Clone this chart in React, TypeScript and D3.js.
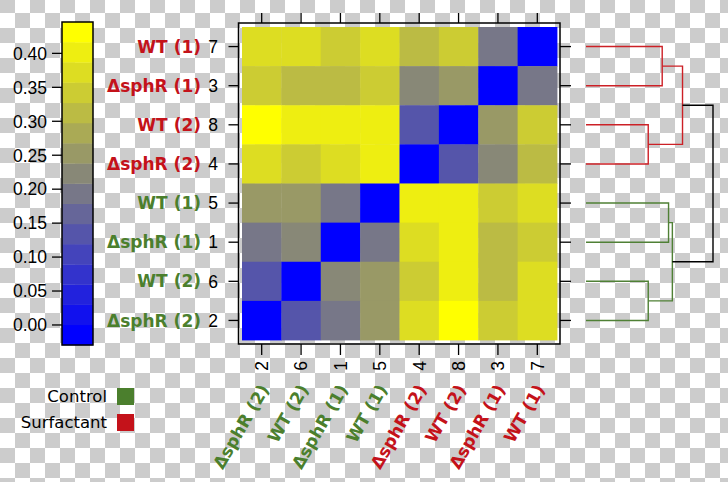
import React from "react";
import * as d3 from "d3";

// ---- data ----
const sampleIds = ["1", "2", "3", "4", "5", "6", "7", "8"];
const sampleNames = ["ΔsphR (1)", "ΔsphR (2)", "ΔsphR (1)", "ΔsphR (2)", "WT (1)", "WT (2)", "WT (1)", "WT (2)"];
const sampleGroups = ["Control", "Control", "Surfactant", "Surfactant", "Control", "Control", "Surfactant", "Surfactant"];

// distance matrix, rows/cols in sampleIds order
const distances = [
  [0.0, 0.19, 0.31, 0.37, 0.19, 0.22, 0.34, 0.4],
  [0.19, 0.0, 0.34, 0.37, 0.25, 0.13, 0.37, 0.43],
  [0.31, 0.34, 0.0, 0.22, 0.34, 0.31, 0.19, 0.25],
  [0.37, 0.37, 0.22, 0.0, 0.4, 0.34, 0.31, 0.13],
  [0.19, 0.25, 0.34, 0.4, 0.0, 0.25, 0.37, 0.4],
  [0.22, 0.13, 0.31, 0.34, 0.25, 0.0, 0.37, 0.4],
  [0.34, 0.37, 0.19, 0.31, 0.37, 0.37, 0.0, 0.34],
  [0.4, 0.43, 0.25, 0.13, 0.4, 0.4, 0.34, 0.0],
];

const rowOrder = ["7", "3", "8", "4", "5", "1", "6", "2"];
const colOrder = ["2", "6", "1", "5", "4", "8", "3", "7"];

const colorDomain = [-0.0295, 0.4462];
const colorStops = ["#0000ff", "#7f7f7f", "#ffff00"];
const colorBands = 16;
const colorTicks = [0, 0.05, 0.1, 0.15, 0.2, 0.25, 0.3, 0.35, 0.4];

const mergeIds = ["A", "B", "C", "D", "E", "F", "G"];
const mergeLeft = ["7", "8", "A", "5", "6", "D", "C"];
const mergeRight = ["3", "4", "B", "1", "2", "E", "F"];
const mergeHeights = [0.6, 0.49, 0.76, 0.65, 0.49, 0.68, 1.0];
const mergeGroup = ["Surfactant", "Surfactant", "Surfactant", "Control", "Control", "Control", ""];

const legendGroups = ["Control", "Surfactant"];
const groupColor: Record<string, string> = { Control: "#4b7f2d", Surfactant: "#c4121a", "": "#000000" };
const lineColor: Record<string, string> = { Control: "#4f8035", Surfactant: "#cc2026", "": "#000000" };

const W = 728;
const H = 482;
const wordFont = "'DejaVu Sans', Verdana, sans-serif";
const numFont = "'Liberation Sans', Arial, sans-serif";

export default function App() {
  const colors = d3.quantize(d3.piecewise(d3.interpolateRgb, colorStops), colorBands);
  const color = d3.scaleQuantize<string>().domain(colorDomain).range(colors);

  const x = d3.scaleBand<string>().domain(colOrder).range([242, 557]);
  const y = d3.scaleBand<string>().domain(rowOrder).range([27, 340]);
  const frame = { x0: 238.5, x1: 560, y0: 23, y1: 344 };

  const cbY = d3.scaleLinear().domain(colorDomain).range([345, 22]);
  const cbX0 = 62;
  const cbX1 = 93;
  const bandW = (colorDomain[1] - colorDomain[0]) / colorBands;

  const dx = d3.scaleLinear().domain([0, 1]).range([586, 713]);

  const idx = (id: string) => sampleIds.indexOf(id);

  // dendrogram node positions
  const pos: Record<string, { x: number; y: number }> = {};
  rowOrder.forEach((id) => {
    pos[id] = { x: dx(0), y: (y(id) as number) + y.bandwidth() / 2 };
  });
  const segs: { d: string; c: string }[] = [];
  mergeIds.forEach((m, i) => {
    const a = pos[mergeLeft[i]];
    const b = pos[mergeRight[i]];
    const nx = dx(mergeHeights[i]);
    pos[m] = { x: nx, y: (a.y + b.y) / 2 };
    segs.push({ d: `M${a.x},${a.y}H${nx}V${b.y}H${b.x}`, c: lineColor[mergeGroup[i]] });
  });

  return (
    <svg
      width={W}
      height={H}
      style={{ position: "absolute", left: 0, top: 0, display: "block" }}
    >
      <defs>
        <pattern id="checker" patternUnits="userSpaceOnUse" x={0} y={-2} width={30} height={30}>
          <rect width={30} height={30} fill="#ffffff" />
          <rect width={15} height={15} fill="#cccccc" />
          <rect x={15} y={15} width={15} height={15} fill="#cccccc" />
        </pattern>
      </defs>
      <rect width={W} height={H} fill="url(#checker)" />

      {/* colour bar */}
      {colors.map((c, i) => (
        <rect
          key={i}
          x={cbX0}
          y={cbY(colorDomain[0] + (i + 1) * bandW)}
          width={cbX1 - cbX0}
          height={cbY(colorDomain[0] + i * bandW) - cbY(colorDomain[0] + (i + 1) * bandW) + 0.3}
          fill={c}
        />
      ))}
      <rect x={cbX0} y={cbY(colorDomain[1])} width={cbX1 - cbX0} height={cbY(colorDomain[0]) - cbY(colorDomain[1])} fill="none" stroke="#000" strokeWidth={1.5} />
      {colorTicks.map((t) => (
        <g key={t}>
          <line x1={cbX0 - 10} x2={cbX0} y1={cbY(t)} y2={cbY(t)} stroke="#000" strokeWidth={1.3} />
          <text x={47} y={cbY(t)} dy="0.36em" textAnchor="end" fontFamily={numFont} fontSize={17.5} fill="#000">
            {d3.format(".2f")(t)}
          </text>
        </g>
      ))}

      {/* heatmap cells */}
      {rowOrder.map((r) =>
        colOrder.map((c) => (
          <rect
            key={r + "-" + c}
            x={x(c)}
            y={y(r)}
            width={x.bandwidth() + 0.4}
            height={y.bandwidth() + 0.4}
            fill={color(distances[idx(r)][idx(c)])}
          />
        ))
      )}
      <rect x={frame.x0} y={frame.y0} width={frame.x1 - frame.x0} height={frame.y1 - frame.y0} fill="none" stroke="#000" strokeWidth={1.5} />

      {/* ticks */}
      {colOrder.map((c) => {
        const cx = (x(c) as number) + x.bandwidth() / 2;
        return (
          <g key={"ct" + c}>
            <line x1={cx} x2={cx} y1={frame.y0 - 10} y2={frame.y0} stroke="#000" strokeWidth={1.3} />
            <line x1={cx} x2={cx} y1={frame.y1} y2={frame.y1 + 11} stroke="#000" strokeWidth={1.3} />
            <text
              transform={`translate(${cx},361) rotate(-90)`}
              dy="0.36em"
              textAnchor="end"
              fontFamily={numFont}
              fontSize={17.5}
              fill="#000"
            >
              {c}
            </text>
            <text
              transform={`translate(${cx + 8},389) rotate(-60)`}
              textAnchor="end"
              fontFamily={wordFont}
              fontWeight="bold"
              fontSize={17}
              fill={groupColor[sampleGroups[idx(c)]]}
            >
              {sampleNames[idx(c)]}
            </text>
          </g>
        );
      })}
      {rowOrder.map((r) => {
        const cy = (y(r) as number) + y.bandwidth() / 2;
        return (
          <g key={"rt" + r}>
            <line x1={frame.x0 - 10} x2={frame.x0} y1={cy} y2={cy} stroke="#000" strokeWidth={1.3} />
            <line x1={frame.x1} x2={frame.x1 + 11} y1={cy} y2={cy} stroke="#000" strokeWidth={1.3} />
            <text x={218} y={cy} dy="0.36em" textAnchor="end" fontFamily={numFont} fontSize={17.5} fill="#000">
              {r}
            </text>
            <text
              x={201}
              y={cy}
              dy="0.36em"
              textAnchor="end"
              fontFamily={wordFont}
              fontWeight="bold"
              fontSize={17}
              fill={groupColor[sampleGroups[idx(r)]]}
            >
              {sampleNames[idx(r)]}
            </text>
          </g>
        );
      })}

      {/* dendrogram */}
      {segs.map((s, i) => (
        <path key={i} d={s.d} fill="none" stroke={s.c} strokeWidth={1.4} />
      ))}

      {/* legend */}
      {legendGroups.map((g, i) => (
        <g key={g}>
          <text x={107} y={396 + i * 26} dy="0.36em" textAnchor="end" fontFamily={wordFont} fontSize={16.5} fill="#000">
            {g}
          </text>
          <rect x={117} y={388 + i * 26} width={17} height={17} fill={groupColor[g]} />
        </g>
      ))}
    </svg>
  );
}
